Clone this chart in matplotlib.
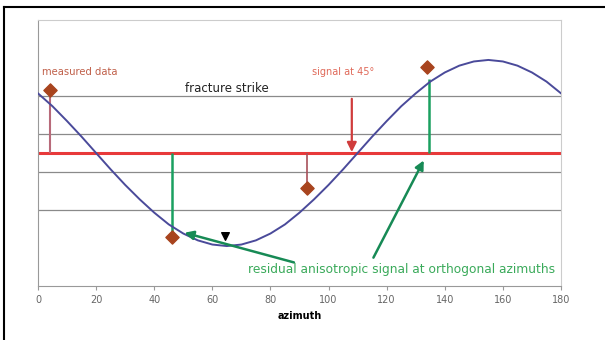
import numpy as np
import matplotlib
matplotlib.use("Agg")
import matplotlib.pyplot as plt
from matplotlib.lines import Line2D

# curve, every 5 degrees
azimuth = list(range(0, 185, 5))
signal = [5.07, 4.73, 4.34, 3.93, 3.50, 3.07, 2.66, 2.28, 1.93, 1.62,
          1.38, 1.20, 1.09, 1.05, 1.09, 1.20, 1.38, 1.62, 1.93, 2.28,
          2.66, 3.07, 3.50, 3.93, 4.34, 4.73, 5.07, 5.38, 5.62, 5.80,
          5.91, 5.95, 5.91, 5.80, 5.62, 5.38, 5.07]

meas_x = [4, 46, 92.6, 134]
meas_y = [5.15, 1.30, 2.58, 5.76]

mean_level = 3.5
grid_levels = [2, 3, 4, 5]
xticks = [0, 20, 40, 60, 80, 100, 120, 140, 160, 180]

fig = plt.figure(figsize=(6.05, 3.4), dpi=100)
ax = fig.add_axes([0.0628, 0.159, 0.8645, 0.782])

for g in grid_levels:
    ax.axhline(g, color='#8a8a8a', lw=0.9, zorder=1)

ax.axhline(mean_level, color='#e8393a', lw=2.2, zorder=2)

ax.plot(azimuth, signal, color='#4a4a9a', lw=1.4, zorder=3)

# residual drops to the mean line
ax.vlines(meas_x[0], mean_level, 5.0, color='#b86a7a', lw=1.5, zorder=2)
ax.vlines(meas_x[2], meas_y[2], mean_level, color='#a8505a', lw=1.2, zorder=2)
ax.vlines(46, meas_y[1], mean_level, color='#1aa060', lw=1.8, zorder=2)
ax.vlines(134.5, mean_level, 5.45, color='#1aa060', lw=1.8, zorder=2)

ax.scatter(meas_x, meas_y, marker='D', s=45, color='#a8441e', zorder=5)
ax.scatter([64.4], [1.32], marker='v', s=30, color='black', zorder=5)

# signal at 45 deg
ax.annotate('', xy=(108, 3.45), xytext=(108, 5.0),
            arrowprops=dict(arrowstyle='-|>', color='#d03c3c', lw=1.6,
                            mutation_scale=14), zorder=4)
ax.text(105, 5.62, 'signal at 45°', color='#e06a5a', fontsize=7,
        ha='center', va='center')

ax.text(1.5, 5.62, 'measured data', color='#c0604a', fontsize=7.2,
        ha='left', va='center')
ax.text(65, 5.2, 'fracture strike', color='#222222', fontsize=8.5,
        ha='center', va='center')

# green arrows to orthogonal azimuths
ax.annotate('', xy=(49.5, 1.42), xytext=(89, 0.6),
            arrowprops=dict(arrowstyle='-|>', color='#178a55', lw=1.8,
                            mutation_scale=13), zorder=4)
ax.annotate('', xy=(133.2, 3.37), xytext=(115, 0.68),
            arrowprops=dict(arrowstyle='-|>', color='#178a55', lw=1.8,
                            mutation_scale=13), zorder=4)
ax.text(178, 0.42, 'residual anisotropic signal at orthogonal azimuths',
        color='#3aaa5a', fontsize=8.8, ha='right', va='center')

ax.set_xlim(0, 180)
ax.set_ylim(0, 7)
ax.set_xticks(xticks)
ax.set_xticklabels([str(t) for t in xticks], color='#666666', fontsize=7)
ax.set_yticks([])
ax.set_xlabel('azimuth', fontsize=7, fontweight='bold', labelpad=4)
ax.tick_params(axis='x', length=3, color='#999999')
for s in ax.spines.values():
    s.set_color('#cccccc')
ax.spines['left'].set_color('#999999')
ax.spines['bottom'].set_color('#999999')

# outer frame lines (top and left)
fig.add_artist(Line2D([0.006, 1.0], [0.98, 0.98], transform=fig.transFigure,
                      color='black', lw=1.5))
fig.add_artist(Line2D([0.006, 0.006], [0.0, 0.98], transform=fig.transFigure,
                      color='black', lw=1.5))

fig.savefig('out.png', dpi=100)
